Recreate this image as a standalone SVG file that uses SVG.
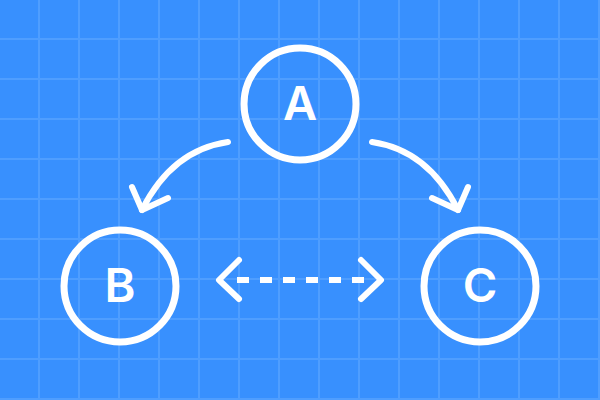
<svg xmlns="http://www.w3.org/2000/svg" width="600" height="400" viewBox="0 0 600 400">
<defs>
<pattern id="grid" x="0" y="0" width="40" height="40" patternUnits="userSpaceOnUse">
<rect x="38" y="0" width="2" height="40" fill="#4f9eff"/>
<rect x="0" y="38" width="40" height="2" fill="#4f9eff"/>
</pattern>
</defs>
<style>
.node circle{fill:none;stroke:#fff;stroke-width:7}
.node text{fill:#fff;font-family:Inter,"Liberation Sans",sans-serif;font-weight:600;font-size:47px;text-anchor:middle}
.conn path{fill:none;stroke:#fff;stroke-width:6;stroke-linecap:round;stroke-linejoin:round}
.conn .dash{stroke-linecap:butt;stroke-dasharray:12 11}
</style>
<rect width="600" height="400" fill="#3890fe"/>
<rect width="600" height="400" fill="url(#grid)"/>
<g id="node-A" class="node"><circle cx="300" cy="104" r="56"/><text x="300" y="120">A</text></g>
<g id="node-B" class="node"><circle cx="120" cy="286" r="56"/><text x="120" y="302">B</text></g>
<g id="node-C" class="node"><circle cx="480" cy="286" r="56"/><text x="480" y="302">C</text></g>
<g id="connectors" class="conn">
<path d="M228,142 Q172,150 142,210"/>
<path d="M132,187 L142,210 L168,198"/>
<path d="M372,142 Q428,150 458,210"/>
<path d="M468,187 L458,210 L432,198"/>
<path class="dash" d="M237,280 L364,280"/>
<path d="M239,260 L219,280 L239,299"/>
<path d="M361,260 L381,280 L361,299"/>
</g>
</svg>
